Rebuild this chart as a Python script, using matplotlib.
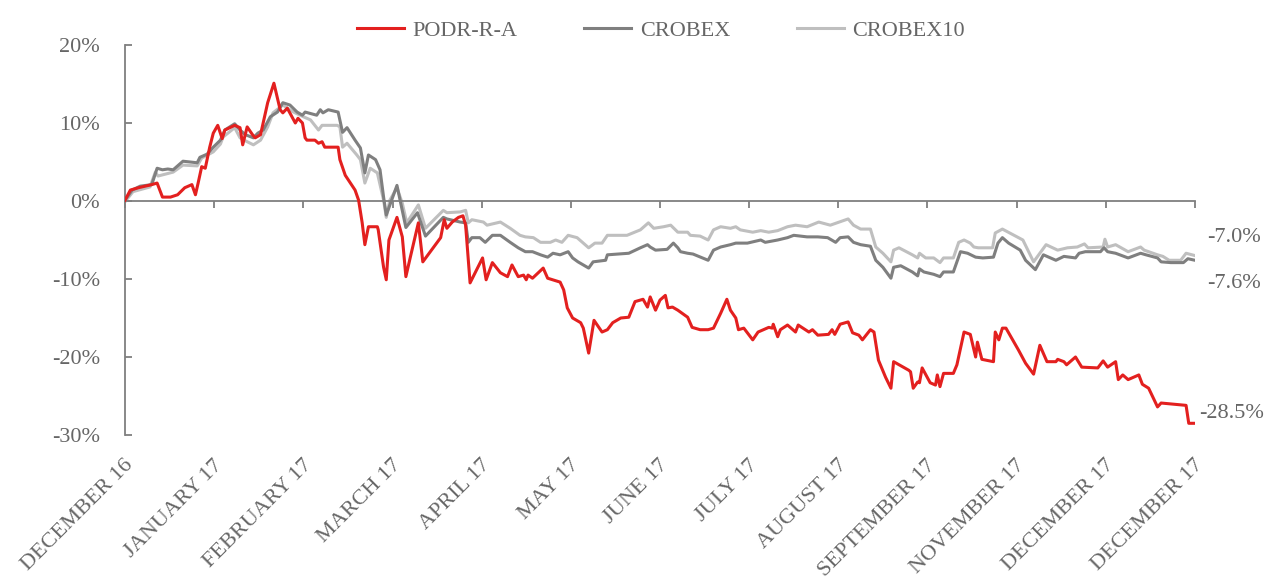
import matplotlib
matplotlib.use("Agg")
import matplotlib.pyplot as plt

# x position in months from the first tick, y in %
podr_x = [0.00, 0.06, 0.15, 0.30, 0.36, 0.42, 0.51, 0.59, 0.67, 0.75, 0.79, 0.82, 0.86, 0.90, 0.95,
          0.99, 1.04, 1.09, 1.12, 1.23, 1.29, 1.32, 1.37, 1.43, 1.46, 1.52, 1.60, 1.67, 1.74, 1.77,
          1.82, 1.91, 1.94, 1.99, 2.02, 2.04, 2.13, 2.17, 2.21, 2.24, 2.39, 2.41, 2.47, 2.58, 2.62,
          2.66, 2.69, 2.73, 2.83, 2.84, 2.90, 2.93, 2.96, 3.05, 3.11, 3.15, 3.20, 3.29, 3.34, 3.54,
          3.58, 3.61, 3.67, 3.74, 3.79, 3.82, 3.87, 4.01, 4.05, 4.12, 4.21, 4.29, 4.34, 4.41, 4.47,
          4.50, 4.52, 4.57, 4.69, 4.74, 4.88, 4.92, 4.96, 5.02, 5.11, 5.14, 5.20, 5.26, 5.35, 5.41,
          5.47, 5.56, 5.65, 5.72, 5.81, 5.86, 5.89, 5.95, 6.00, 6.06, 6.09, 6.14, 6.20, 6.31, 6.36,
          6.45, 6.54, 6.60, 6.68, 6.75, 6.79, 6.85, 6.88, 6.94, 7.04, 7.10, 7.22, 7.26, 7.27, 7.32,
          7.35, 7.43, 7.52, 7.55, 7.67, 7.71, 7.77, 7.89, 7.93, 7.96, 8.02, 8.11, 8.16, 8.23, 8.27,
          8.36, 8.40, 8.45, 8.53, 8.59, 8.62, 8.79, 8.81, 8.84, 8.89, 8.91, 8.94, 9.03, 9.09, 9.11,
          9.14, 9.18, 9.29, 9.33, 9.41, 9.48, 9.54, 9.56, 9.61, 9.74, 9.76, 9.80, 9.84, 9.88, 10.02,
          10.10, 10.19, 10.26, 10.34, 10.44, 10.46, 10.53, 10.56, 10.66, 10.73, 10.91, 10.97, 11.02,
          11.11, 11.14, 11.19, 11.25, 11.37, 11.41, 11.48, 11.58, 11.62, 11.90, 11.93, 12.00]
podr_y = [0.1, 1.4, 1.7, 2.1, 2.3, 0.5, 0.5, 0.8, 1.7, 2.1, 0.8, 2.3, 4.4, 4.2, 6.9,
          8.7, 9.7, 8.0, 9.1, 9.7, 9.4, 7.2, 9.5, 8.5, 8.1, 8.5, 12.6, 15.1, 11.7, 11.3,
          11.9, 10.0, 10.6, 10.0, 8.1, 7.8, 7.8, 7.4, 7.6, 6.9, 6.9, 5.3, 3.3, 1.4, 0.1,
          -2.8, -5.6, -3.3, -3.3, -3.7, -8.5, -10.1, -5.0, -2.1, -4.6, -9.7, -7.2, -2.8, -7.8, -4.7,
          -2.4, -3.5, -2.7, -2.1, -1.9, -3.1, -10.5, -7.3, -10.1, -7.9, -9.2, -9.7, -8.2, -9.7, -9.5,
          -10.1, -9.5, -9.9, -8.6, -9.9, -10.4, -11.4, -13.7, -15.0, -15.6, -16.3, -19.5, -15.3, -16.8, -16.5,
          -15.6, -15.0, -14.9, -12.9, -12.6, -13.6, -12.3, -14.0, -12.7, -12.1, -13.7, -13.6, -14.0, -14.9, -16.2,
          -16.5, -16.5, -16.3, -14.4, -12.6, -14.0, -15.0, -16.5, -16.3, -17.8, -16.8, -16.2, -16.3, -15.8, -17.4,
          -16.5, -15.9, -16.8, -15.9, -16.8, -16.5, -17.2, -17.1, -16.5, -17.1, -15.8, -15.5, -16.9, -17.2, -17.8,
          -16.5, -16.8, -20.4, -22.6, -24.0, -20.6, -21.7, -21.9, -24.0, -23.2, -23.3, -21.4, -23.3, -23.6, -22.3,
          -23.8, -22.1, -22.1, -21.0, -16.8, -17.1, -20.0, -18.1, -20.3, -20.6, -16.8, -17.8, -16.3, -16.3, -19.1,
          -20.8, -22.2, -18.5, -20.6, -20.6, -20.3, -20.6, -21.0, -20.0, -21.3, -21.4, -20.5, -21.3,
          -20.6, -22.9, -22.3, -22.9, -22.3, -23.5, -24.0, -26.4, -25.9, -26.2, -28.5, -28.5]

crobex_x = [0.00, 0.08, 0.17, 0.30, 0.36, 0.42, 0.48, 0.54, 0.65, 0.81, 0.84, 0.92, 0.99, 1.07, 1.12,
            1.23, 1.29, 1.35, 1.44, 1.49, 1.55, 1.63, 1.71, 1.77, 1.85, 1.93, 1.99, 2.02, 2.15, 2.19,
            2.22, 2.28, 2.39, 2.44, 2.49, 2.58, 2.64, 2.69, 2.73, 2.81, 2.86, 2.90, 2.93, 2.99, 3.05,
            3.15, 3.28, 3.37, 3.57, 3.61, 3.76, 3.82, 3.85, 3.89, 3.98, 4.04, 4.12, 4.21, 4.32, 4.41,
            4.49, 4.57, 4.66, 4.74, 4.80, 4.88, 4.97, 5.02, 5.08, 5.20, 5.25, 5.39, 5.41, 5.65, 5.78,
            5.86, 5.89, 5.95, 6.08, 6.15, 6.20, 6.23, 6.31, 6.37, 6.54, 6.60, 6.68, 6.79, 6.85, 6.98,
            7.13, 7.18, 7.32, 7.43, 7.50, 7.65, 7.77, 7.88, 7.97, 8.02, 8.11, 8.17, 8.25, 8.36, 8.42,
            8.50, 8.59, 8.62, 8.70, 8.83, 8.89, 8.91, 8.96, 9.07, 9.14, 9.18, 9.29, 9.37, 9.45, 9.54,
            9.62, 9.74, 9.79, 9.84, 9.91, 10.04, 10.10, 10.21, 10.30, 10.44, 10.53, 10.66, 10.70, 10.77,
            10.94, 10.98, 11.02, 11.11, 11.25, 11.39, 11.45, 11.58, 11.62, 11.73, 11.87, 11.92, 12.00]
crobex_y = [0.1, 1.4, 1.9, 2.1, 4.2, 4.0, 4.1, 4.0, 5.1, 4.9, 5.6, 6.0, 6.9, 7.8, 9.1,
            9.9, 9.1, 8.5, 8.1, 8.7, 9.1, 10.8, 11.4, 12.6, 12.3, 11.4, 11.0, 11.4, 11.0, 11.7,
            11.3, 11.7, 11.4, 8.8, 9.4, 7.8, 6.8, 3.6, 5.9, 5.3, 4.0, 0.5, -1.8, 0.1, 2.0,
            -3.4, -1.5, -4.5, -2.1, -2.3, -2.7, -2.8, -5.3, -4.7, -4.7, -5.3, -4.4, -4.4, -5.3, -6.0,
            -6.5, -6.5, -6.9, -7.2, -6.7, -6.9, -6.5, -7.3, -7.8, -8.6, -7.8, -7.6, -6.9, -6.7, -6.0,
            -5.6, -5.9, -6.3, -6.2, -5.4, -6.0, -6.5, -6.7, -6.8, -7.6, -6.3, -5.9, -5.6, -5.4, -5.4,
            -5.0, -5.3, -5.0, -4.7, -4.4, -4.6, -4.6, -4.7, -5.3, -4.7, -4.6, -5.3, -5.6, -5.8, -7.6,
            -8.5, -9.9, -8.5, -8.3, -9.1, -9.6, -8.7, -9.1, -9.4, -9.7, -9.1, -9.1, -6.5, -6.7, -7.2,
            -7.3, -7.2, -5.4, -4.7, -5.4, -6.3, -7.6, -8.8, -6.9, -7.6, -7.1, -7.3, -6.7, -6.5,
            -6.5, -6.0, -6.5, -6.7, -7.3, -6.7, -6.9, -7.3, -7.8, -7.9, -7.9, -7.4, -7.6]

crobex10_x = [0.00, 0.09, 0.28, 0.34, 0.37, 0.54, 0.65, 0.81, 0.86, 0.99, 1.07, 1.10, 1.23, 1.29, 1.37,
              1.44, 1.52, 1.60, 1.66, 1.77, 1.89, 2.00, 2.08, 2.17, 2.21, 2.38, 2.41, 2.44, 2.49, 2.60,
              2.64, 2.69, 2.75, 2.83, 2.90, 2.93, 2.97, 3.05, 3.11, 3.16, 3.29, 3.37, 3.57, 3.61, 3.76,
              3.82, 3.85, 3.89, 4.02, 4.06, 4.21, 4.32, 4.43, 4.49, 4.58, 4.66, 4.77, 4.83, 4.90, 4.97,
              5.07, 5.20, 5.27, 5.35, 5.41, 5.63, 5.78, 5.87, 5.93, 6.04, 6.12, 6.20, 6.31, 6.34, 6.45,
              6.54, 6.60, 6.68, 6.79, 6.85, 6.90, 7.04, 7.13, 7.22, 7.32, 7.43, 7.52, 7.65, 7.78, 7.91,
              8.11, 8.17, 8.25, 8.36, 8.42, 8.50, 8.59, 8.62, 8.68, 8.83, 8.89, 8.91, 8.98, 9.07, 9.14,
              9.18, 9.29, 9.35, 9.41, 9.48, 9.52, 9.57, 9.73, 9.76, 9.84, 10.07, 10.19, 10.33, 10.46,
              10.57, 10.68, 10.76, 10.80, 10.97, 10.99, 11.02, 11.11, 11.25, 11.39, 11.43, 11.58, 11.64,
              11.71, 11.84, 11.90, 12.00]
crobex10_y = [-0.1, 1.2, 1.8, 3.7, 3.2, 3.7, 4.6, 4.5, 5.5, 6.3, 7.3, 8.2, 9.4, 8.1, 7.6,
              7.2, 7.8, 9.5, 11.3, 12.3, 11.4, 10.8, 10.4, 9.1, 9.7, 9.7, 9.5, 6.9, 7.4, 5.9,
              5.3, 2.3, 4.2, 3.6, 0.1, -2.1, 0.1, 1.7, -0.3, -2.8, -0.5, -3.5, -1.2, -1.5, -1.4,
              -1.2, -2.8, -2.4, -2.7, -3.1, -2.7, -3.5, -4.4, -4.6, -4.7, -5.3, -5.3, -5.0, -5.3, -4.4,
              -4.7, -6.0, -5.4, -5.4, -4.4, -4.4, -3.7, -2.8, -3.5, -3.3, -3.1, -4.0, -4.0, -4.4, -4.5,
              -5.0, -3.7, -3.3, -3.5, -3.3, -3.7, -4.0, -3.8, -4.0, -3.8, -3.3, -3.1, -3.3, -2.7, -3.1,
              -2.3, -3.1, -3.6, -3.6, -5.9, -6.7, -7.8, -6.3, -6.0, -6.9, -7.3, -6.7, -7.3, -7.3, -7.9,
              -7.3, -7.3, -5.3, -5.0, -5.4, -5.9, -6.0, -6.0, -4.1, -3.6, -5.0, -7.8, -5.6, -6.3,
              -6.0, -5.9, -5.5, -6.0, -5.9, -4.9, -5.9, -5.6, -6.5, -5.9, -6.3, -6.9, -7.1,
              -7.6, -7.6, -6.7, -7.0]

month_labels = ["DECEMBER 16", "JANUARY 17", "FEBRUARY 17", "MARCH 17", "APRIL 17", "MAY 17",
                "JUNE 17", "JULY 17", "AUGUST 17", "SEPTEMBER 17", "NOVEMBER 17", "DECEMBER 17",
                "DECEMBER 17"]
y_ticks = [-30, -20, -10, 0, 10, 20]

RED = "#e3201f"
DARK = "#7f7f7f"
LIGHT = "#bfbfbf"
TXT = "#666666"

plt.rcParams["font.family"] = ["Liberation Serif", "DejaVu Serif"]
plt.rcParams["font.size"] = 16

fig = plt.figure(figsize=(12.64, 5.79), dpi=100)
ax = fig.add_axes([0.0989, 0.2487, 0.8465, 0.6736])

ax.plot(podr_x, podr_y, color=RED, lw=2.2, label="PODR-R-A", zorder=4)
ax.plot(crobex_x, crobex_y, color=DARK, lw=2.2, label="CROBEX", zorder=3)
ax.plot(crobex10_x, crobex10_y, color=LIGHT, lw=2.2, label="CROBEX10", zorder=2)

ax.set_xlim(0, 12)
ax.set_ylim(-30, 20)
ax.set_yticks(y_ticks)
ax.set_yticklabels([f"{v}%" for v in y_ticks], color=TXT)
ax.set_xticks(range(len(month_labels)))
ax.set_xticklabels([])

for s in ["top", "right"]:
    ax.spines[s].set_visible(False)
ax.spines["left"].set_color(DARK)
ax.spines["left"].set_linewidth(1.3)
ax.spines["bottom"].set_position(("data", 0))
ax.spines["bottom"].set_color(DARK)
ax.spines["bottom"].set_linewidth(1.3)
ax.tick_params(axis="y", direction="in", length=5, width=1.3, color=DARK, pad=18)
ax.tick_params(axis="x", direction="out", length=5, width=1.3, color=DARK)

for i, lab in enumerate(month_labels):
    ax.annotate(lab, xy=(i, 0), xycoords=("data", "axes fraction"),
                xytext=(4, -20), textcoords="offset points",
                rotation=45, ha="right", va="center", rotation_mode="anchor",
                color=TXT, fontsize=16)

# end labels
ax.annotate("-7.0%", xy=(crobex10_x[-1], crobex10_y[-1]), xytext=(9, 13),
            textcoords="offset points", va="center", ha="left", color=TXT, annotation_clip=False)
ax.annotate("-7.6%", xy=(crobex_x[-1], crobex_y[-1]), xytext=(9, -17),
            textcoords="offset points", va="center", ha="left", color=TXT, annotation_clip=False)
ax.annotate("-28.5%", xy=(podr_x[-1], podr_y[-1]), xytext=(3, 7),
            textcoords="offset points", va="center", ha="left", color=TXT, annotation_clip=False)

leg = fig.legend(loc="upper center", bbox_to_anchor=(0.523, 1.0), ncol=3, frameon=False,
                 handlelength=2.1, handletextpad=0.4, columnspacing=3.0, fontsize=16)
for t in leg.get_texts():
    t.set_color(TXT)

fig.savefig("out.png", dpi=100)
